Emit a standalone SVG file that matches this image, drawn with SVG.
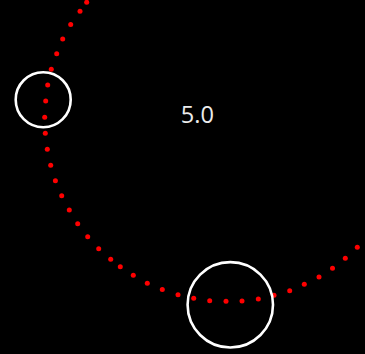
<svg xmlns="http://www.w3.org/2000/svg" width="365" height="354" viewBox="0 0 365 354">
<style>
.dot{fill:#ff0000}
.ring{fill:none;stroke:#ffffff;stroke-width:2.6}
.label{font-family:"Open Sans","Liberation Sans",sans-serif;font-size:23.6px;fill:#ececec;text-anchor:middle}
</style>
<rect x="0" y="0" width="365" height="354" fill="#000000"/>
<g id="connectors">
<g id="dotted-arc">
<circle class="dot" cx="86.7" cy="2.3" r="2.5"/>
<circle class="dot" cx="80" cy="11.3" r="2.5"/>
<circle class="dot" cx="70.7" cy="24.5" r="2.5"/>
<circle class="dot" cx="62.7" cy="39" r="2.5"/>
<circle class="dot" cx="56.7" cy="53.7" r="2.5"/>
<circle class="dot" cx="51.3" cy="69.3" r="2.5"/>
<circle class="dot" cx="47.7" cy="85" r="2.5"/>
<circle class="dot" cx="45.7" cy="101" r="2.5"/>
<circle class="dot" cx="44.7" cy="117.3" r="2.5"/>
<circle class="dot" cx="45.3" cy="133.3" r="2.5"/>
<circle class="dot" cx="47.3" cy="149.3" r="2.5"/>
<circle class="dot" cx="50.7" cy="165.3" r="2.5"/>
<circle class="dot" cx="55.4" cy="180.7" r="2.5"/>
<circle class="dot" cx="61.7" cy="195.7" r="2.5"/>
<circle class="dot" cx="69.3" cy="210" r="2.5"/>
<circle class="dot" cx="77.7" cy="223.7" r="2.5"/>
<circle class="dot" cx="87.7" cy="236.7" r="2.5"/>
<circle class="dot" cx="98.7" cy="248.7" r="2.5"/>
<circle class="dot" cx="110.7" cy="259.3" r="2.5"/>
<circle class="dot" cx="120.3" cy="266.7" r="2.5"/>
<circle class="dot" cx="133.3" cy="275.3" r="2.5"/>
<circle class="dot" cx="147.3" cy="283.3" r="2.5"/>
<circle class="dot" cx="162.3" cy="289.5" r="2.5"/>
<circle class="dot" cx="178" cy="294.7" r="2.5"/>
<circle class="dot" cx="193.7" cy="298.3" r="2.5"/>
<circle class="dot" cx="209.7" cy="300.7" r="2.5"/>
<circle class="dot" cx="226" cy="301.3" r="2.5"/>
<circle class="dot" cx="242" cy="301" r="2.5"/>
<circle class="dot" cx="258.3" cy="299" r="2.5"/>
<circle class="dot" cx="274" cy="295.3" r="2.5"/>
<circle class="dot" cx="289.7" cy="290.7" r="2.5"/>
<circle class="dot" cx="304.3" cy="284.3" r="2.5"/>
<circle class="dot" cx="319" cy="277" r="2.5"/>
<circle class="dot" cx="332.5" cy="268.2" r="2.5"/>
<circle class="dot" cx="345.3" cy="258.3" r="2.5"/>
<circle class="dot" cx="357.3" cy="247.3" r="2.5"/>
</g>
</g>
<g id="node-small">
<circle class="ring" cx="43.2" cy="99.7" r="27.5"/>
</g>
<g id="node-large">
<circle class="ring" cx="230.3" cy="304.8" r="42.7"/>
</g>
<g id="label">
<text class="label" x="197.4" y="123">5.0</text>
</g>
</svg>
